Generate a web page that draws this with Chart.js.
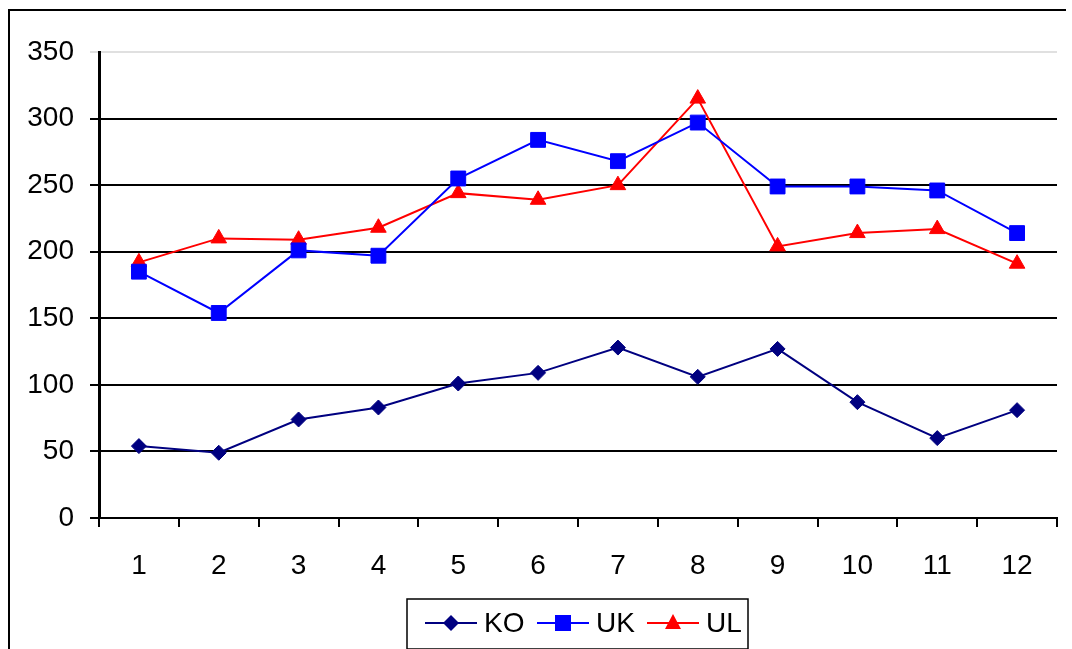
<!DOCTYPE html>
<html>
<head>
<meta charset="utf-8">
<script src="https://cdn.jsdelivr.net/npm/chart.js@4/dist/chart.umd.min.js"></script>
<style>
  html, body { margin: 0; padding: 0; background: #fff; }
  #wrap { width: 1072px; height: 649px; position: relative; }
</style>
</head>
<body>
<div id="wrap"><canvas id="c" width="1072" height="649"></canvas></div>
<script>
// Monthly readings for the three series
const categories = ['1', '2', '3', '4', '5', '6', '7', '8', '9', '10', '11', '12'];
const koValues = [54, 49, 74, 83, 101, 109, 128, 106, 127, 87, 60, 81];
const ukValues = [185, 154, 201, 197, 255, 284, 268, 297, 249, 249, 246, 214];
const ulValues = [192, 210, 209, 218, 244, 239, 250, 315, 204, 214, 217, 191];
const yTicks = [0, 50, 100, 150, 200, 250, 300, 350];

const FONT = 'Liberation Sans, Arial, sans-serif';

// Outer frame (top and left edges) plus a boxed legend below the axis
const framePlugin = {
  id: 'frame',
  afterDraw(chart) {
    const ctx = chart.ctx;
    ctx.save();
    ctx.strokeStyle = '#000';
    ctx.lineWidth = 2;
    ctx.beginPath();
    ctx.moveTo(9, 649);
    ctx.lineTo(9, 10);
    ctx.lineTo(1066, 10);
    ctx.stroke();

    // legend box
    const bx = 407, by = 599, bw = 341, bh = 50;
    ctx.lineWidth = 1.5;
    ctx.strokeRect(bx, by, bw, bh);

    const items = chart.data.datasets;
    const starts = [425, 537, 647];
    const cy = 623;
    ctx.font = '28px ' + FONT;
    ctx.textBaseline = 'middle';
    ctx.textAlign = 'left';
    items.forEach((ds, i) => {
      const x0 = starts[i];
      ctx.strokeStyle = ds.borderColor;
      ctx.lineWidth = 2;
      ctx.beginPath();
      ctx.moveTo(x0, cy);
      ctx.lineTo(x0 + 52, cy);
      ctx.stroke();
      const mx = x0 + 26;
      ctx.fillStyle = ds.pointBackgroundColor;
      ctx.beginPath();
      if (ds.pointStyle === 'rectRot') {
        ctx.moveTo(mx, cy - 8); ctx.lineTo(mx + 8, cy); ctx.lineTo(mx, cy + 8); ctx.lineTo(mx - 8, cy);
      } else if (ds.pointStyle === 'rect') {
        ctx.rect(mx - 8, cy - 8, 16, 16);
      } else {
        ctx.moveTo(mx, cy - 9); ctx.lineTo(mx + 8, cy + 6); ctx.lineTo(mx - 8, cy + 6);
      }
      ctx.closePath();
      ctx.fill();
      ctx.fillStyle = '#000';
      ctx.fillText(ds.label, x0 + 59, cy + 1);
    });
    ctx.restore();
  }
};

new Chart(document.getElementById('c'), {
  type: 'line',
  data: {
    labels: categories,
    datasets: [
      {
        label: 'KO', data: koValues,
        borderColor: '#000080', backgroundColor: '#000080', pointBackgroundColor: '#000080',
        pointBorderColor: '#000080', borderWidth: 2, pointStyle: 'rectRot', pointRadius: 7.5,
        pointBorderWidth: 1, tension: 0
      },
      {
        label: 'UK', data: ukValues,
        borderColor: '#0000FF', backgroundColor: '#0000FF', pointBackgroundColor: '#0000FF',
        pointBorderColor: '#0000FF', borderWidth: 2, pointStyle: 'rect', pointRadius: 10.5,
        pointBorderWidth: 1, tension: 0
      },
      {
        label: 'UL', data: ulValues,
        borderColor: '#FF0000', backgroundColor: '#FF0000', pointBackgroundColor: '#FF0000',
        pointBorderColor: '#FF0000', borderWidth: 2, pointStyle: 'triangle', pointRadius: 9,
        pointBorderWidth: 1, tension: 0
      }
    ]
  },
  options: {
    responsive: false,
    animation: false,
    layout: { padding: { left: 0, right: 15, top: 52, bottom: 0 } },
    plugins: { legend: { display: false }, tooltip: { enabled: false } },
    scales: {
      x: {
        type: 'category',
        offset: true,
        grid: { offset: true, drawOnChartArea: false, drawTicks: true, tickLength: 9, color: '#000', lineWidth: 2 },
        border: { display: true, color: '#000', width: 2 },
        ticks: { color: '#000', font: { family: FONT, size: 28 }, padding: 22, maxRotation: 0 },
        afterFit(scale) { scale.height = 131; }
      },
      y: {
        min: 0, max: 350,
        afterBuildTicks(scale) { scale.ticks = yTicks.map(v => ({ value: v })); },
        grid: {
          color: ctx => (ctx.tick && ctx.tick.value === 350 ? '#e0e0e0' : '#000'),
          lineWidth: 2, tickLength: 9, drawTicks: true
        },
        border: { display: true, color: '#000', width: 3 },
        ticks: { color: '#000', font: { family: FONT, size: 28 }, padding: 16 },
        afterFit(scale) { scale.width = 99; }
      }
    }
  },
  plugins: [framePlugin]
});
</script>
</body>
</html>
